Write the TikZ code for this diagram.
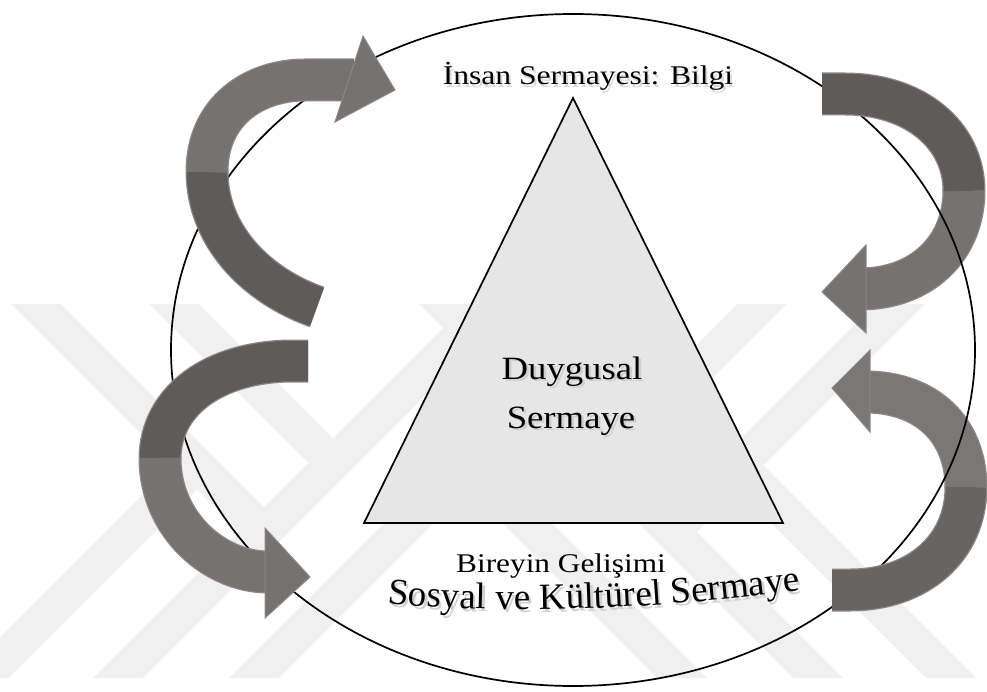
\documentclass[tikz,border=0pt]{standalone}
\usepackage{fontspec}
\setmainfont{Liberation Serif}
\usetikzlibrary{decorations.text}

\definecolor{arrdark}{HTML}{5F5B5A}
\definecolor{arrlight}{HTML}{767271}
\definecolor{arrdarkb}{HTML}{676463}
\definecolor{arrlightb}{HTML}{7B7776}
\definecolor{arredge}{HTML}{8C8887}
\definecolor{wmark}{HTML}{F0F0F0}
\definecolor{trifill}{HTML}{E6E6E6}
\definecolor{shade}{HTML}{BDBDBD}

\begin{document}
\begin{tikzpicture}[x=1pt,y=-1pt,
  wmband/.style={draw=wmark, line width=35pt, line cap=butt, line join=miter},
  ribedge/.style={draw=arredge, line width=43pt, line cap=butt},
  ribdark/.style={draw=#1, line width=40.5pt, line cap=butt},
  ribdark/.default=arrdark,
  riblight/.style={draw=#1, line width=40.5pt, line cap=butt},
  riblight/.default=arrlight,
  headlight/.style={fill=#1, draw=arredge, line width=1pt, line join=miter},
  headlight/.default=arrlight,
  outline/.style={draw=black, line width=1.7pt},
  lbl/.style={inner sep=0pt, anchor=base, font=\fontsize{#1}{#1}\selectfont},
  softshadow/.style={text=shade, opacity=0.55}
]
% canvas
\fill[white] (0,0) rectangle (987,692);
\useasboundingbox (0,0) rectangle (987,692);

% faint diagonal band pattern in the background
\begin{scope}
  \clip (0,305) rectangle (987,677);
  \draw[wmband] (17,285) -- (264,532);
  \draw[wmband] (511,285) -- (99,697);
  \draw[wmband] (155,285) -- (333,463);
  \draw[wmband] (235,697) -- (466,466);
  \draw[wmband] (197,465) -- (-35,697);
  \draw[wmband] (781,285) -- (603,463);
  \draw[wmband] (425,285) -- (837,697);
  \draw[wmband] (701,697) -- (470,466);
  \draw[wmband] (919,285) -- (672,532);
  \draw[wmband] (738,465) -- (970,697);
\end{scope}

% central triangle
\coordinate (apex) at (573,98);
\coordinate (bl) at (364,523);
\coordinate (br) at (783,523);
\draw[outline, fill=trifill, line join=miter] (apex) -- (bl) -- (br) -- cycle;

% rear (lighter) halves of the right-hand ribbons, behind the ring
\draw[ribedge]  (964,190) .. controls (964,250) and (920,289) .. (860,289);
\draw[riblight] (964,190) .. controls (964,250) and (920,289) .. (860,289);
\draw[headlight] (866,245) -- (822,292) -- (866,333) -- cycle;
\draw[ribedge]  (966,488) .. controls (966,428) and (925,393) .. (868,392);
\draw[riblight=arrlightb] (966,488) .. controls (966,428) and (925,393) .. (868,392);
\draw[headlight=arrlightb] (870,350) -- (832,388) -- (870,432) -- cycle;

% the ring
\draw[outline] (573,350) ellipse [x radius=402, y radius=336];

% front (darker) halves of the right-hand ribbons
\draw[ribedge] (822,94) -- (845,94) .. controls (915,94) and (964,135) .. (964,191);
\draw[ribdark] (822,94) -- (845,94) .. controls (915,94) and (964,135) .. (964,191);
\draw[ribedge] (832,590) -- (850,590) .. controls (918,590) and (966,548) .. (966,487);
\draw[ribdark=arrdarkb] (832,590) -- (850,590) .. controls (918,590) and (966,548) .. (966,487);

% upper-left ribbon
\draw[ribedge] (317,307) .. controls (255,285) and (207,235) .. (207,171);
\draw[ribdark] (317,307) .. controls (255,285) and (207,235) .. (207,171);
\draw[ribedge] (207,172) .. controls (207,110) and (255,80) .. (305,80) -- (354,80);
\draw[riblight] (207,172) .. controls (207,110) and (255,80) .. (305,80) -- (354,80);
\draw[headlight] (363,36) -- (395,90) -- (335,122) -- cycle;

% lower-left ribbon
\draw[ribedge] (308,361) -- (290,361) .. controls (215,362) and (160,400) .. (160,459);
\draw[ribdark] (308,361) -- (290,361) .. controls (215,362) and (160,400) .. (160,459);
\draw[ribedge] (160,458) .. controls (160,525) and (215,572) .. (268,572);
\draw[riblight] (160,458) .. controls (160,525) and (215,572) .. (268,572);
\draw[headlight] (265,528) -- (310,577) -- (265,618) -- cycle;

% labels, each with a soft drop shadow
\node[lbl=27, softshadow] (bilgish) at (590,87.5) {\scalebox{1.17}[1]{İnsan Sermayesi: Bilgi}};
\node[lbl=27] (bilgi) at (588,85) {\scalebox{1.17}[1]{İnsan Sermayesi: Bilgi}};
\node[lbl=32.5, softshadow] (duysh) at (574.5,381.5) {\scalebox{1.13}[1]{Duygusal}};
\node[lbl=32.5] (duy) at (572,379) {\scalebox{1.13}[1]{Duygusal}};
\node[lbl=32.5, softshadow] (sersh) at (573.5,430.5) {\scalebox{1.13}[1]{Sermaye}};
\node[lbl=32.5] (ser) at (571,428) {\scalebox{1.13}[1]{Sermaye}};
\node[lbl=27] (birey) at (561,572) {\scalebox{1.16}[1]{Bireyin Gelişimi}};

% wavy caption along a gently curved baseline, shadow first
\coordinate (wavestart) at (386,603);
\coordinate (waveend) at (802,590);
\path[decorate, decoration={text along path, text align=center,
  text={|\fontsize{37}{37}\selectfont\color{shade!70}|Sosyal ve Kültürel Sermaye}}]
  ([shift={(2.5,3)}]wavestart) .. controls ([shift={(2.5,3)}]480,614) and ([shift={(2.5,3)}]640,612) .. ([shift={(2.5,3)}]waveend);
\path[decorate, decoration={text along path, text align=center,
  text={|\fontsize{37}{37}\selectfont|Sosyal ve Kültürel Sermaye}}]
  (wavestart) .. controls (480,614) and (640,612) .. (waveend);
\end{tikzpicture}
\end{document}
